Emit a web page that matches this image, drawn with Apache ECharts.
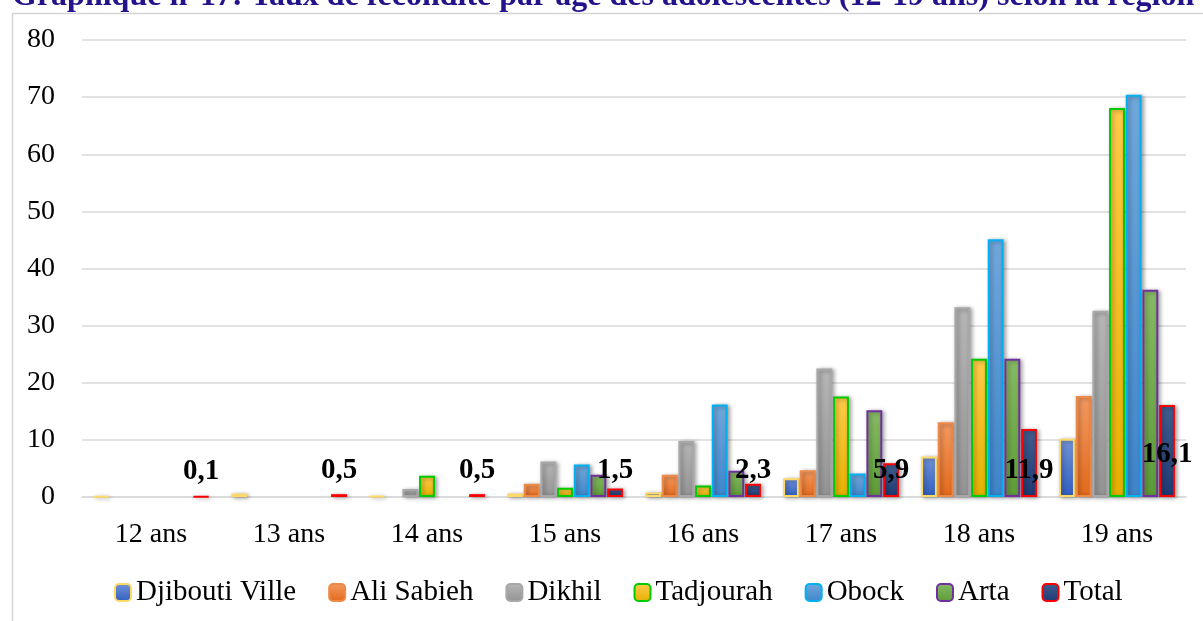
<!DOCTYPE html>
<html>
<head>
<meta charset="utf-8">
<script src="https://cdn.jsdelivr.net/npm/echarts@6/dist/echarts.min.js"></script>
<style>
  html, body { margin: 0; padding: 0; background: #fff; }
  #chart { width: 1203px; height: 621px; }
</style>
</head>
<body>
<div id="chart"></div>
<script>
// categories (age)
var ages = ['12 ans', '13 ans', '14 ans', '15 ans', '16 ans', '17 ans', '18 ans', '19 ans'];
var yTicks = [0, 10, 20, 30, 40, 50, 60, 70, 80];

// taux par région
var djiboutiVille = [0.1, 0.6, 0.2, 0.6, 0.8, 3.3, 7.1, 10.2];
var aliSabieh = [0, 0, 0, 2.3, 3.9, 4.7, 13.1, 17.7];
var dikhil = [0, 0, 1.4, 6.2, 9.8, 22.5, 33.2, 32.6];
var tadjourah = [0, 0, 3.7, 1.6, 2.0, 17.6, 24.2, 68.1];
var obock = [0, 0, 0, 5.7, 16.2, 4.1, 45.1, 70.4];
var arta = [0, 0, 0, 3.9, 4.6, 15.2, 24.2, 36.3];
var total = [0.1, 0.5, 0.5, 1.5, 2.3, 5.9, 11.9, 16.1];

var serif = '"Times New Roman", "Liberation Serif", serif';

function grad(top, bottom) {
    return new echarts.graphic.LinearGradient(0, 0, 0, 1, [
        { offset: 0, color: top },
        { offset: 1, color: bottom }
    ]);
}

// zero = no bar drawn
function clean(arr) {
    return arr.map(function (v) { return v === 0 ? '-' : v; });
}

function barSeries(name, data, top, bottom, border) {
    return {
        name: name,
        type: 'bar',
        data: clean(data),
        barGap: '5%',
        barCategoryGap: '16%',
        itemStyle: {
            color: grad(top, bottom),
            borderColor: border,
            borderWidth: 2,
            shadowColor: 'rgba(0,0,0,0.35)',
            shadowBlur: 4,
            shadowOffsetX: 2,
            shadowOffsetY: 1
        }
    };
}

var series = [
    barSeries('Djibouti Ville', djiboutiVille, '#7393D8', '#2F5EC0', '#FFD966'),
    barSeries('Ali Sabieh', aliSabieh, '#F39A62', '#E2691A', '#EE8A48'),
    barSeries('Dikhil', dikhil, '#B6B6B6', '#939393', '#A8A8A8'),
    barSeries('Tadjourah', tadjourah, '#FFCB4A', '#E6B000', '#00CC00'),
    barSeries('Obock', obock, '#71A8DC', '#3E85CB', '#00B0F0'),
    barSeries('Arta', arta, '#87BA64', '#5D9B37', '#7030A0'),
    barSeries('Total', total, '#425D8E', '#1E3A73', '#FF0000')
];

// étiquettes du total
series[6].data = total.map(function (v, i) {
    return {
        value: v,
        label: { distance: i === 7 ? 28 : 12 }
    };
});
series[6].label = {
    show: true,
    position: 'insideBottom',
    color: '#000',
    fontFamily: serif,
    fontWeight: 'bold',
    fontSize: 29,
    formatter: function (p) { return String(p.value).replace('.', ','); }
};

var myChart = echarts.init(document.getElementById('chart'));
myChart.setOption({
    animation: false,
    backgroundColor: '#fff',
    title: {
        text: 'Graphique n°17: Taux de fécondité par âge des adolescentes (12-19 ans) selon la région',
        left: 12,
        top: -19,
        padding: 0,
        textStyle: { color: '#24148C', fontFamily: serif, fontWeight: 'bold', fontSize: 32 }
    },
    graphic: [{
        type: 'rect',
        left: 10,
        top: 11,
        shape: { width: 1250, height: 650 },
        style: { fill: 'none', stroke: '#D4D4D4', lineWidth: 1.5 },
        silent: true
    }],
    legend: {
        bottom: 9,
        left: 109,
        itemWidth: 16,
        itemHeight: 17,
        itemGap: 32,
        textStyle: { fontFamily: serif, fontSize: 29, color: '#000' },
        data: series.map(function (s) { return s.name; })
    },
    grid: { left: 82, right: 17, top: 40, bottom: 124 },
    xAxis: {
        type: 'category',
        data: ages,
        axisLine: { lineStyle: { color: '#D9D9D9', width: 1.5 } },
        axisTick: { show: false },
        axisLabel: { fontFamily: serif, fontSize: 28, color: '#000', margin: 24 }
    },
    yAxis: {
        type: 'value',
        min: yTicks[0],
        max: yTicks[yTicks.length - 1],
        interval: 10,
        axisLine: { show: false },
        axisTick: { show: false },
        splitLine: { lineStyle: { color: '#D9D9D9', width: 1.5 } },
        axisLabel: { fontFamily: serif, fontSize: 28, color: '#000', margin: 27 }
    },
    series: series
});
</script>
</body>
</html>
